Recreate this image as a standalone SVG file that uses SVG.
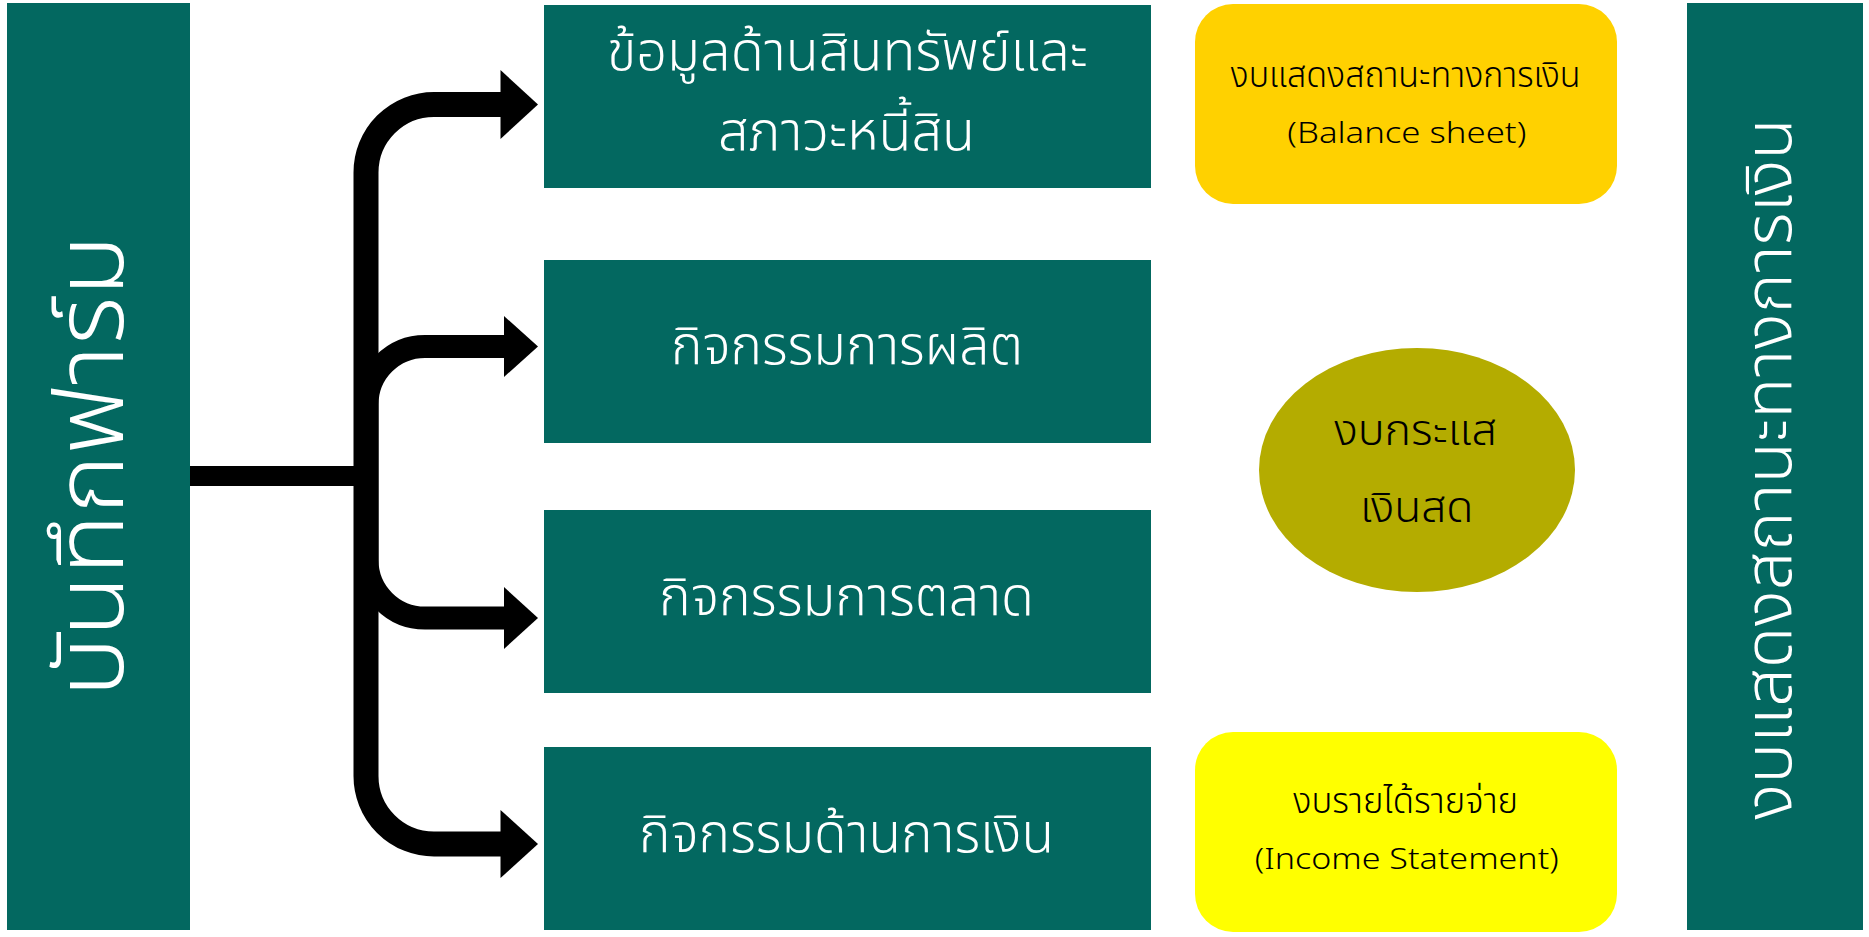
<svg xmlns="http://www.w3.org/2000/svg" width="1869" height="937" viewBox="0 0 1869 937">
<defs>
<style>
.bar{fill:#036860}
.box{fill:#036860}
.wt{fill:#ffffff;font-family:"Noto Sans Thai","Noto Sans","DejaVu Sans",sans-serif;font-weight:300;text-anchor:middle}
.bt{fill:#000000;font-family:"Noto Sans Thai","Noto Sans","DejaVu Sans",sans-serif;font-weight:300;text-anchor:middle}
.ln{fill:none;stroke:#000000;stroke-linejoin:round}
.ah{fill:#000000}
</style>
</defs>
<rect width="1869" height="937" fill="#ffffff"/>
<g id="connectors">
<path class="ln" d="M190 476 H366" stroke-width="20"/>
<path class="ln" d="M502 104.5 H434 A68 68 0 0 0 366 172.5 V776 A68 68 0 0 0 434 844 H502" stroke-width="25"/>
<path class="ln" d="M505 346.5 H425 A58 58 0 0 0 367 404.5 V560 A58 58 0 0 0 425 618 H505" stroke-width="23"/>
<polygon class="ah" points="500.5,70 538,104.5 500.5,139"/>
<polygon class="ah" points="504,316 538,346.5 504,377"/>
<polygon class="ah" points="504,587 538,618 504,649"/>
<polygon class="ah" points="500.5,810 538,844 500.5,878"/>
</g>
<g id="farm-record">
<rect class="bar" x="7" y="3" width="183" height="927"/>
<text class="wt" transform="translate(123,466) rotate(-90)" font-size="96" textLength="462" lengthAdjust="spacingAndGlyphs">บันทึกฟาร์ม</text>
</g>
<g id="assets-liabilities">
<rect class="box" x="544" y="5" width="607" height="183"/>
<text class="wt" x="847.5" y="70" font-size="54" textLength="481" lengthAdjust="spacingAndGlyphs">ข้อมูลด้านสินทรัพย์และ</text>
<text class="wt" x="846.5" y="150" font-size="54" textLength="257" lengthAdjust="spacingAndGlyphs">สภาวะหนี้สิน</text>
</g>
<g id="production">
<rect class="box" x="544" y="260" width="607" height="183"/>
<text class="wt" x="847" y="364" font-size="54" textLength="352" lengthAdjust="spacingAndGlyphs">กิจกรรมการผลิต</text>
</g>
<g id="marketing">
<rect class="box" x="544" y="510" width="607" height="183"/>
<text class="wt" x="846.5" y="615" font-size="54" textLength="375" lengthAdjust="spacingAndGlyphs">กิจกรรมการตลาด</text>
</g>
<g id="finance">
<rect class="box" x="544" y="747" width="607" height="183"/>
<text class="wt" x="846.5" y="852" font-size="54" textLength="415" lengthAdjust="spacingAndGlyphs">กิจกรรมด้านการเงิน</text>
</g>
<g id="balance-sheet">
<rect x="1195" y="4" width="422" height="200" rx="38" ry="38" fill="#ffd100"/>
<text class="bt" x="1405.6" y="87" font-size="36" textLength="350" lengthAdjust="spacingAndGlyphs">งบแสดงสถานะทางการเงิน</text>
<text class="bt" x="1406.8" y="143" font-size="30" textLength="239" lengthAdjust="spacingAndGlyphs">(Balance sheet)</text>
</g>
<g id="cash-flow">
<ellipse cx="1417" cy="470" rx="158" ry="122" fill="#b4ac00"/>
<text class="bt" x="1415.4" y="445" font-size="43" textLength="163" lengthAdjust="spacingAndGlyphs">งบกระแส</text>
<text class="bt" x="1416.7" y="521.7" font-size="43" textLength="113.5" lengthAdjust="spacingAndGlyphs">เงินสด</text>
</g>
<g id="income-statement">
<rect x="1195" y="732" width="422" height="200" rx="38" ry="38" fill="#ffff00"/>
<text class="bt" x="1405.5" y="812.7" font-size="36" textLength="225" lengthAdjust="spacingAndGlyphs">งบรายได้รายจ่าย</text>
<text class="bt" x="1406.7" y="869" font-size="30" textLength="304" lengthAdjust="spacingAndGlyphs">(Income Statement)</text>
</g>
<g id="financial-statements">
<rect class="bar" x="1687" y="3" width="176" height="927"/>
<text class="wt" transform="translate(1791,469) rotate(-90)" font-size="66" textLength="702" lengthAdjust="spacingAndGlyphs">งบแสดงสถานะทางการเงิน</text>
</g>
</svg>
